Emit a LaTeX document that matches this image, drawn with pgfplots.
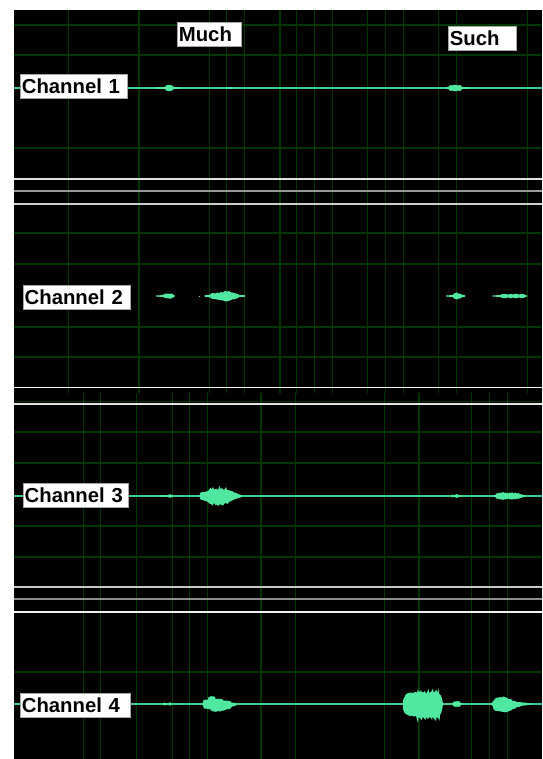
\documentclass[border=0pt]{standalone}
\usepackage{pgfplots}
\pgfplotsset{compat=1.18}
\usepackage{fontspec}
\setmainfont{Liberation Sans}
\definecolor{wave}{RGB}{80,232,160}
\definecolor{baseln}{RGB}{62,205,142}
\definecolor{gridc}{RGB}{0,54,0}
\tikzset{
  lab/.style={draw=gray!70, fill=white, line width=0.8pt, inner xsep=1.5pt, inner ysep=0pt,
    minimum height=24pt, anchor=north west, align=left,
    font=\fontsize{20.3}{22}\selectfont\bfseries},
  wv/.style={fill=wave, draw=none},
  gl/.style={draw=gridc, line width=1.1pt}}
\begin{document}
\begin{tikzpicture}
\begin{axis}[scale only axis, width=542pt, height=759pt,
  xmin=0, xmax=542, ymin=0, ymax=759, y dir=reverse,
  hide axis, clip=true, unbounded coords=jump]
% background
\addplot[fill=white, draw=none] coordinates {(0,0)(542,0)(542,759)(0,759)};
\addplot[fill=black, draw=none] coordinates {(13.8,10)(542,10)(542,759)(13.8,759)};
% vertical grid, top half
\addplot[gl] coordinates {(68.4,10)(68.4,393) (nan,nan) (139,10)(139,393) (nan,nan)
 (209.5,10)(209.5,393) (nan,nan) (226.4,10)(226.4,393) (nan,nan) (244.4,10)(244.4,393) (nan,nan)
 (280,10)(280,393) (nan,nan) (296.6,10)(296.6,393) (nan,nan) (314.6,10)(314.6,393) (nan,nan)
 (332.6,10)(332.6,393) (nan,nan) (367.5,10)(367.5,393) (nan,nan) (385.5,10)(385.5,393) (nan,nan)
 (403.4,10)(403.4,393) (nan,nan) (438.3,10)(438.3,393) (nan,nan) (456.3,10)(456.3,393) (nan,nan)
 (527.2,10)(527.2,393)};
% vertical grid, bottom half
\addplot[gl] coordinates {(83.7,393)(83.7,759) (nan,nan) (100.3,393)(100.3,759) (nan,nan)
 (136.5,393)(136.5,759) (nan,nan) (172.2,393)(172.2,759) (nan,nan) (189.1,393)(189.1,759) (nan,nan)
 (207.4,393)(207.4,759) (nan,nan) (261,393)(261,759) (nan,nan) (295.6,393)(295.6,759) (nan,nan)
 (384.4,393)(384.4,759) (nan,nan) (419,393)(419,759) (nan,nan) (471.5,393)(471.5,759) (nan,nan)
 (489.5,393)(489.5,759) (nan,nan) (507.5,393)(507.5,759)};
% horizontal grid
\addplot[gl] coordinates {(13.8,25)(542,25) (nan,nan) (13.8,55)(542,55) (nan,nan) (13.8,148)(542,148) (nan,nan)
 (13.8,233)(542,233) (nan,nan) (13.8,264)(542,264) (nan,nan) (13.8,327)(542,327) (nan,nan) (13.8,357)(542,357) (nan,nan)
 (13.8,401.5)(542,401.5) (nan,nan)
 (13.8,432)(542,432) (nan,nan) (13.8,463)(542,463) (nan,nan) (13.8,526)(542,526) (nan,nan) (13.8,557)(542,557) (nan,nan)
 (13.8,672)(542,672)};
% separators
\addplot[draw=white!88!black, line width=1.3pt] coordinates {(13.8,179)(542,179)};
\addplot[draw=white!60!black, line width=2pt] coordinates {(13.8,191)(542,191)};
\addplot[draw=white!80!black, line width=1.3pt] coordinates {(13.8,204)(542,204)};
\addplot[draw=white!95!black, line width=1.3pt] coordinates {(13.8,387.3)(542,387.3)};
\addplot[draw=white!90!black, line width=1.3pt] coordinates {(13.8,404)(542,404)};
\addplot[draw=white!78!black, line width=1.3pt] coordinates {(13.8,587)(542,587)};
\addplot[draw=white!55!black, line width=2pt] coordinates {(13.8,599)(542,599)};
\addplot[draw=white!95!black, line width=1.3pt] coordinates {(13.8,612)(542,612)};
% baselines
\addplot[draw=baseln, line width=1.3pt] coordinates {(13.8,88)(542,88)};
\addplot[draw=baseln, line width=1.3pt] coordinates {(13.8,496)(542,496)};
\addplot[draw=baseln, line width=1.3pt] coordinates {(13.8,704)(542,704)};
% ---------- Channel 1 ----------
\addplot[wv] coordinates {(156,87.2)(165,87)(166,85.5)(168,85)(170,84.8)(172,85.5)(173,86.5)(175,87)(180,87.2)
 (180,88.8)(175,89)(173,89.5)(172,90.5)(170,91.2)(168,91)(166,90.5)(165,89)(156,88.8)};
\addplot[wv] coordinates {(226,87)(232,87)(232,89)(226,89)};
\addplot[wv] coordinates {(238.5,86.8)(239.5,86.8)(239.5,89.2)(238.5,89.2)};
\addplot[wv] coordinates {(446,87.2)(449,86.5)(450,85)(452,85.5)(454,84.8)(456,85)(458,85.5)(460,85)(461.5,86.5)(463,87)(470,87.2)
 (470,88.8)(463,89)(461.5,89.5)(460,91)(458,90.5)(456,91.2)(454,91)(452,90.5)(450,91)(449,89.5)(446,88.8)};
% ---------- Channel 2 ----------
\addplot[wv] coordinates {(156,295.3)(163,295.2)(164,294)(166,293.5)(168,293.5)(170,293.8)(172,293.5)(173,294.5)(174.6,295.3)
 (174.6,296.7)(173,297.5)(171,298.5)(169,298.5)(167,298.2)(165,298)(164,297.5)(163,296.8)(156,296.7)};
\addplot[wv] coordinates {(199,295.5)(200,295.5)(200,296.5)(199,296.5)};
\addplot[wv] coordinates {(204.7,295.3)(208,295)(210,294.5)(211,293.5)(213,293)(215,293.5)(217,292.5)(219,293)(221,292)(223,292.5)
 (225,291)(227,291.5)(229,291)(230,292)(232,292.5)(234,293)(236,293.5)(238,294)(239,295)(245.4,295.3)
 (245.4,296.7)(239,297)(238,298)(235,299)(232,299.5)(230,300.5)(228,301)(226,301.5)(223,300.5)(220,300)
 (217,299.5)(214,299)(211,298.5)(210,297.5)(208,297)(204.7,296.7)};
\addplot[wv] coordinates {(446,295.3)(452,295.2)(453,294.5)(455,293)(457,292.5)(458,293.5)(460,293.5)(461.5,294.5)(465,295.3)
 (465,296.7)(461.5,297.5)(460,298.5)(458,298.5)(457,299.5)(455,299)(453,297.5)(452,296.8)(446,296.7)};
\addplot[wv] coordinates {(492.6,295.3)(500,295.2)(502,294)(507,294)(508,295)(509,294)(512,294)(513,295)(514,293.8)(518,294)
 (519,295)(520,294)(524,294.2)(525,295.2)(527.2,295.3)
 (527.2,296.7)(525,296.8)(524,297.8)(520,298)(519,297)(518,298)(514,298.2)(513,297)(512,298)(509,298)
 (508,297)(507,298)(502,298)(500,296.8)(492.6,296.7)};
% ---------- Channel 3 ----------
\addplot[wv] coordinates {(161,495.2)(168,495.2)(169,494.3)(171,494.3)(172,495.2)(173,495.2)
 (173,496.8)(172,496.8)(171,497.7)(169,497.7)(168,496.8)(161,496.8)};
\addplot[wv] coordinates {(199.8,495.2)(200,493)(202,492)(204,492)(206,491.5)(208,491)(209.5,489)(210.5,487.7)(211.5,489.5)
 (213,487)(214,489.5)(215.5,489)(216.5,488.5)(218,490)(219.5,486)(220.5,489)(222,488)(223,489.5)(224.5,489.5)
 (226,487)(227,490)(228.5,490)(230,490.5)(231.5,491)(233,491.5)(234.5,492.5)(236.5,493)(238,494)(240,494.5)(242,495.2)
 (242,496.8)(239,498)(237,498.5)(235,499)(233,500)(231,501)(229,502)(227.5,504)(226,503)(224.5,503.5)
 (223,505.5)(221.5,505)(220,504)(218.5,506)(217,504.5)(215.5,505)(214,503)(212.5,505.5)(211,504)(209.5,503.5)
 (208,502)(206,501)(204,500.5)(202,500)(200,499)(199.8,496.8)};
\addplot[wv] coordinates {(451,495)(455,494.8)(457,494)(458,494.8)(460,495)(460,497)(458,497.2)(457,498)(455,497.2)(451,497)};
\addplot[wv] coordinates {(492.6,495.2)(495,495)(496,494)(497,493)(498,493.5)(500,492.5)(501,493)(503,492)(504,493)(505,492.5)
 (507,493)(508,493.5)(509,492.5)(511,493)(512,492)(513,493.5)(515,492.5)(516,493.5)(518,493)(520,494)(522,494.5)(525,495.2)
 (525,496.8)(522,497.5)(520,498)(518,499)(516,498.5)(515,499.5)(513,498.5)(512,500)(511,499)(509,499.5)
 (508,498.5)(507,499)(505,499.5)(504,499)(503,500)(501,499)(500,499.5)(498,498.5)(497,499)(496,498)(495,497)(492.6,496.8)};
% ---------- Channel 4 ----------
\addplot[wv] coordinates {(163,703.2)(164.5,702.5)(166,703.2)(169,703.2)(170,702)(171,703.2)
 (171,704.8)(170,706)(169,704.8)(166,704.8)(164.5,705.5)(163,704.8)};
\addplot[wv] coordinates {(202.7,703.2)(203.5,700)(206,699.7)(208,699.5)(208.5,697)(210,696.8)(211,696)(212,696.5)(213.5,696.3)
 (215,697)(215.5,698.8)(218,698.7)(220,699)(222,699)(223.5,700.5)(226,700.6)(228,700.8)(230,701)(231.5,702.5)(234,702.8)(236.7,703.2)
 (236.7,704.8)(235,706)(232,706.5)(230,709)(228,709.2)(226,709.5)(224,710.5)(222,710.5)(220,711.5)(218,711)
 (216,711.8)(214,711.5)(212,711)(210,709)(208,709)(206,708.5)(204,708.5)(202.7,705)};
\addplot[wv] coordinates {(402.7,704)(403,700)(404,698)(405,696)(406,694)(407,693.5)(409,693)(411,692.5)(413,693)(415,692)
 (417,692.5)(418,688.5)(418.6,692)(420,691.5)(421,690)(421.6,692)(423,692.5)(425,691)(425.6,693)(427,692.5)
 (428.5,689)(429,692.5)(431,692)(433,688.5)(433.6,692.5)(435,691.5)(436.5,689.5)(437,693)(438.5,688.5)(439,693.5)
 (440.5,695)(441.5,697)(442.7,702)(443,704)
 (442.7,706)(442,710)(441,713)(440,715)(439.5,720.5)(438,718)(436.6,717)(436,721)(434,718.5)(432.6,717)
 (432,720)(431,718)(429.5,717)(428,719)(426.2,717)(425.6,720)(424,718)(422.6,717)(422,720)(420,718)
 (418.6,717)(418,723)(416,716)(414,716.5)(412,715.5)(410,716)(408,715)(406,714)(404,712)(403,709)};
\addplot[wv] coordinates {(452,703.2)(453,702.5)(455,701)(456,702)(457,700.5)(458,701.5)(459,701)(461,703)(462,703.2)
 (462,704.8)(461,705)(459,707)(458,706)(457,707.5)(456,706)(455,707)(453,705.5)(452,704.8)};
\addplot[wv] coordinates {(491,703.2)(492.7,702)(493.5,700.5)(495,699)(496,697.5)(498,697.8)(500,697)(501.5,697.5)(503,696.5)
 (505,697)(507,697.8)(508.5,699)(511,699)(512.5,700.8)(515,701)(517,702)(521.7,702.3)(530,703.2)
 (530,704.8)(521.7,705.8)(519,707)(517,707)(515,708.5)(513,709)(511,710.5)(509,711)(507,712)(505,712.3)
 (503,712)(501,711.5)(499,711)(497,711)(495,710.5)(493.5,709)(492.7,706)(491,704.8)};
% ---------- labels ----------
\node[lab, text width=61pt] at (axis cs:177,21.7) {Much};
\node[lab, text width=65pt] at (axis cs:448,26) {Such};
\node[lab, text width=104pt] at (axis cs:20,74) {Channel 1};
\node[lab, text width=104pt] at (axis cs:22.8,285) {Channel 2};
\node[lab, text width=102pt] at (axis cs:22.8,483) {Channel 3};
\node[lab, text width=107pt] at (axis cs:20,693) {Channel 4};
\end{axis}
\end{tikzpicture}
\end{document}
